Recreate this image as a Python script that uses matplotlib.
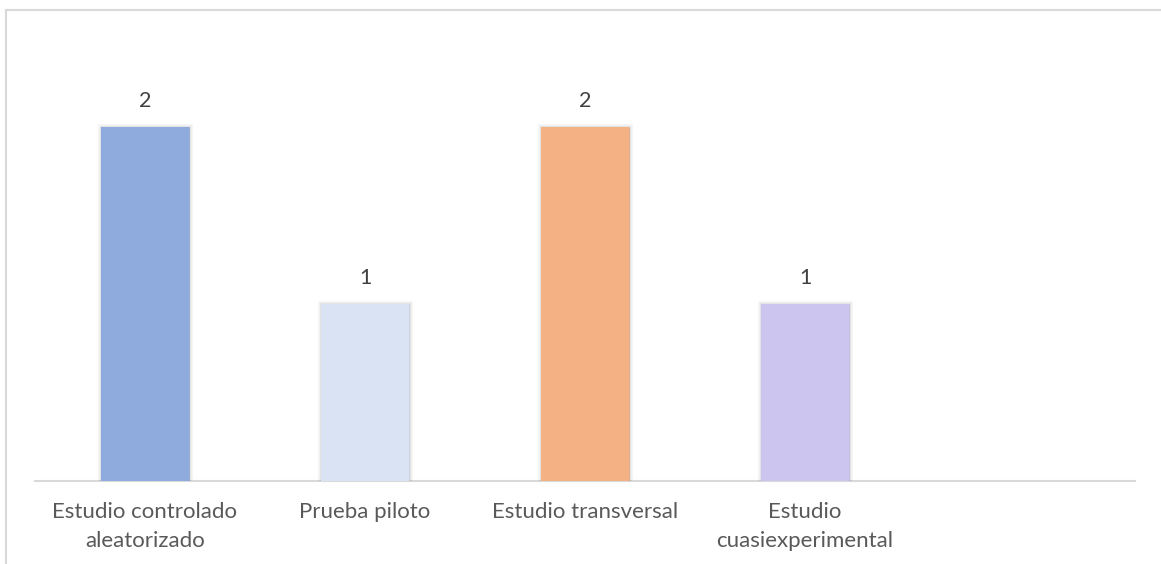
import matplotlib.pyplot as plt
import matplotlib.patheffects as pe
from matplotlib.lines import Line2D

# data
categories = ["Estudio controlado\naleatorizado", "Prueba piloto",
              "Estudio transversal", "Estudio\ncuasiexperimental", ""]
values = [2, 1, 2, 1, 0]
colors = ["#8FAADC", "#DAE3F3", "#F4B183", "#CBC5EF", "#FFFFFF"]

plt.rcParams['font.family'] = ['Lato', 'DejaVu Sans']

fig = plt.figure(figsize=(11.61, 5.64), dpi=100)
ax = fig.add_axes([35 / 1161, 83 / 564, 1100 / 1161, 442 / 564])

x = list(range(len(categories)))
bars = ax.bar(x[:4], values[:4], width=0.4, color=colors[:4], zorder=3)
for b in bars:
    b.set_path_effects([pe.Stroke(linewidth=5, foreground=(0, 0, 0, 0.04)),
                        pe.Stroke(linewidth=2.5, foreground=(0, 0, 0, 0.07)),
                        pe.Normal()])

for xi, v in zip(x[:4], values[:4]):
    ax.annotate(str(v), (xi, v), xytext=(0, 12), textcoords="offset points",
                ha="center", va="bottom", fontsize=15.5, color="#404040")

ax.set_xlim(-0.5, 4.5)
ax.set_ylim(0, 2.5)
ax.set_xticks(x)
ax.set_xticklabels(categories, fontsize=16, color="#595959", linespacing=1.6)
ax.tick_params(axis="x", length=0, pad=15)
ax.set_yticks([])
for s in ["top", "right", "left"]:
    ax.spines[s].set_visible(False)
ax.spines["bottom"].set_color("#D9D9D9")
ax.spines["bottom"].set_linewidth(1.5)

# outer chart border (left and top visible)
fig.add_artist(Line2D([5.5 / 1161, 5.5 / 1161], [0, 1 - 9.5 / 564],
                      transform=fig.transFigure, color="#D9D9D9", lw=1.5))
fig.add_artist(Line2D([5.5 / 1161, 1], [1 - 9.5 / 564, 1 - 9.5 / 564],
                      transform=fig.transFigure, color="#D9D9D9", lw=1.5))

plt.savefig("out.png", dpi=100)
